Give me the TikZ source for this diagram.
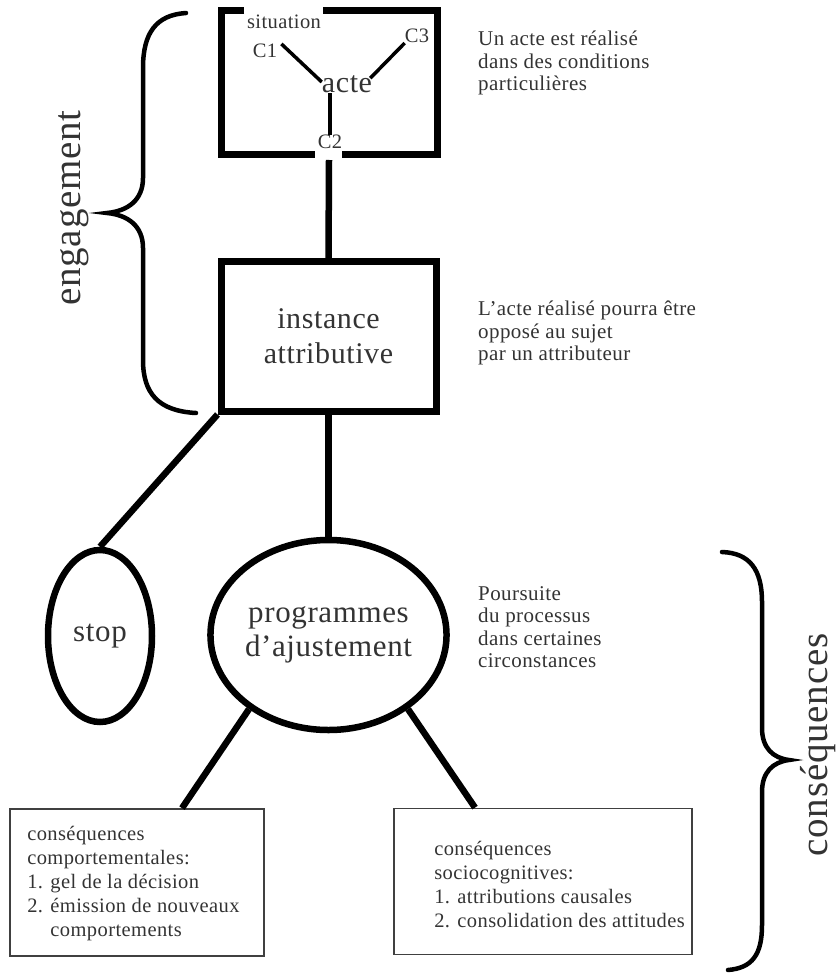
\documentclass[tikz,border=0pt]{standalone}
\usepackage{fontspec}
\setmainfont{Liberation Serif}[LetterSpace=2.0]
\usetikzlibrary{shapes.geometric,positioning}

\begin{document}
\begin{tikzpicture}[x=1pt, y=-1pt,
  every node/.style={text=black!80, inner sep=0pt},
  frame/.style={line width=7pt},
  link/.style={line width=6.5pt},
  thin link/.style={line width=3.5pt},
  curly/.style={line width=4.5pt, line cap=round},
  box/.style={draw, rectangle, line width=7pt, minimum width=215pt, minimum height=149pt, align=center, font=\fontsize{30}{35}\selectfont},
  oval/.style={draw, ellipse, line width=6.5pt, align=center, font=\fontsize{31}{34}\selectfont},
  cons/.style={draw=black!75, rectangle, line width=1.8pt},
  small/.style={font=\fontsize{20.5}{22}\selectfont},
  note/.style={align=left, anchor=west, font=\fontsize{21}{22.5}\selectfont},
  listing/.style={align=left, anchor=west, font=\fontsize{20.5}{24}\selectfont},
  bracelabel/.style={rotate=90, font=\fontsize{39}{42}\selectfont},
]
  \useasboundingbox (0,0) rectangle (835,973);

  % situation
  \draw[frame] (244,10.5) -- (221,10.5) -- (221,155) -- (315,155);
  \draw[frame] (323,10.5) -- (437,10.5) -- (437,155) -- (342,155);
  \node[small] (situation) at (284,22)  {situation};
  \node[small] (c1)        at (265,51)  {C1};
  \node[small] (c3)        at (417,36)  {C3};
  \node[font=\fontsize{30}{32}\selectfont] (acte) at (347,84) {acte};
  \node[small] (c2)        at (330,142) {C2};
  \coordinate (gap) at (329,160);

  \draw[thin link] ([xshift=4pt]c1.north east) -- ([yshift=2pt]acte.west);
  \draw[thin link] (c3.south west) -- ([xshift=-2pt,yshift=-3pt]acte.north east);
  \draw[thin link] (c2.north) -- (c2.north |- acte.south);

  % chain
  \node[box]  (inst) at (328.5,336.5) {instance\\attributive};
  \node[oval, minimum width=104pt, minimum height=172pt] (stop) at (100,636) {stop};
  \node[oval, minimum width=212pt, minimum height=190pt] (prog) at (328.5,635) {programmes\\d’ajustement};

  \node[cons, minimum width=254pt, minimum height=147pt] (cbox) at (137,882.5) {};
  \node[listing] (ctext) at ([xshift=18pt,yshift=-1pt]cbox.west)
    {conséquences\\comportementales:\\1. gel de la décision\\2. émission de nouveaux\\\phantom{2. }comportements};
  \node[cons, minimum width=298pt, minimum height=146pt] (sbox) at (543,881.5) {};
  \node[listing] (stext) at ([xshift=41pt,yshift=-3pt]sbox.west)
    {conséquences\\sociocognitives:\\1. attributions causales\\2. consolidation des attitudes};

  \draw[link] (gap) -- (inst.north);
  \draw[link] (inst.south west) -- (stop.north);
  \draw[link] (inst.south) -- (prog.north);
  \draw[link] (prog.223) -- ([xshift=45pt]cbox.north);
  \draw[link] (prog.317) -- ([xshift=-68pt]sbox.north);

  % notes
  \node[note] (note1) at (478,63)  {Un acte est réalisé\\dans des conditions\\particulières};
  \node[note] (note2) at (478,333) {L’acte réalisé pourra être\\opposé au sujet\\par un attributeur};
  \node[note] (note3) at (478,627) {Poursuite\\du processus\\dans certaines\\circonstances};

  % braces
  \draw[curly] (186,13) .. controls (156,15) and (143,33) .. (143,68) -- (143,178)
    .. controls (143,200) and (128,211) .. (107,213)
    .. controls (128,215) and (143,226) .. (143,248) -- (143,360)
    .. controls (143,393) and (158,411) .. (196,413);
  \node[bracelabel] (engagement) at (74,208) {engagement};
  \draw[curly] (722,552) .. controls (750,553) and (762,570) .. (762,602) -- (762,728)
    .. controls (762,748) and (773,758) .. (789,760)
    .. controls (773,762) and (762,772) .. (762,792) -- (762,925)
    .. controls (762,955) and (752,968) .. (728,970);
  \node[bracelabel] (consequences) at (818,745) {conséquences};
\end{tikzpicture}
\end{document}
